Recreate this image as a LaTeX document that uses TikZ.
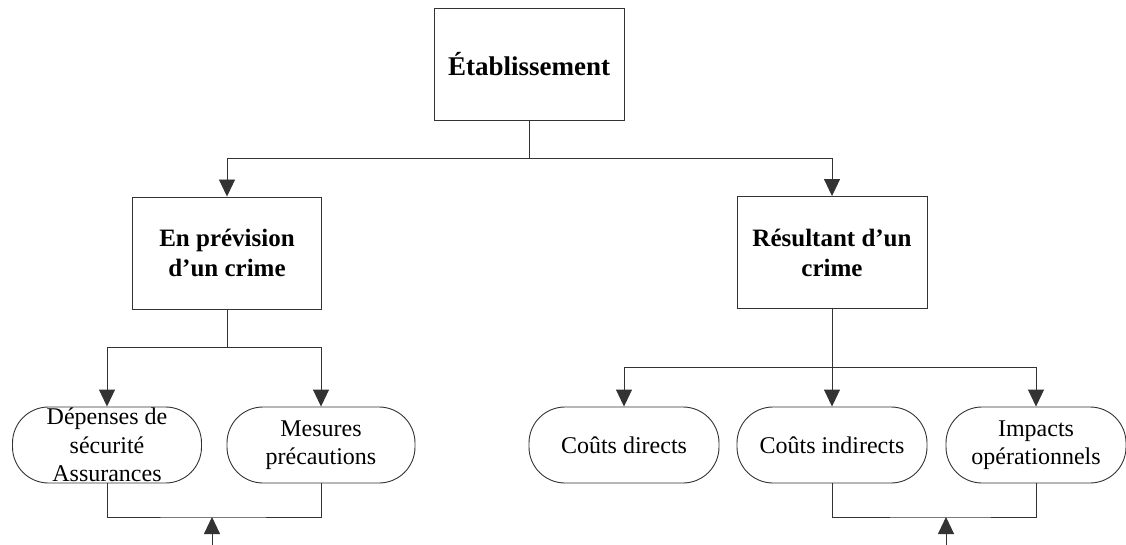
\documentclass[tikz,border=0pt]{standalone}
\usepackage{fontspec}
\setmainfont{Liberation Serif}
\usetikzlibrary{arrows.meta}
\begin{document}
\begin{tikzpicture}[x=1pt,y=-1pt,
  line/.style={draw=black!80,line width=0.9pt},
  arr/.style={line,-{Triangle[width=16pt,length=17pt]}},
  boxnode/.style={line,rectangle,minimum width=190pt,minimum height=112pt,align=center,font=\fontsize{25}{30}\selectfont\bfseries,inner sep=0pt},
  pill/.style={line,rectangle,rounded corners=36pt,minimum width=190pt,minimum height=76pt,align=center,font=\fontsize{24}{28.5}\selectfont,inner sep=0pt}]
\useasboundingbox (0,0) rectangle (1126,545);
\node[boxnode,font=\fontsize{27}{30}\selectfont\bfseries] (top) at (529,64) {Établissement};
\node[boxnode,minimum width=189pt] (prev) at (227,253) {En prévision\\d’un crime};
\node[boxnode] (res) at (832,252.5) {Résultant d’un\\crime};
\node[pill,minimum width=189pt] (dep) at (107,445) {Dépenses de\\sécurité\\Assurances};
\node[pill,minimum width=188pt] (mes) at (321,445) {Mesures\\précautions};
\node[pill] (dir) at (624,445) {Coûts directs};
\node[pill] (ind) at (832,445) {Coûts indirects};
\node[pill,minimum width=180pt] (imp) at (1036,445) {Impacts\\opérationnels};
\coordinate (tj) at (529,158);
\draw[line] (top.south) -- (tj);
\draw[arr] (tj) -| (prev.north);
\draw[arr] (tj) -| (res.north);
\coordinate (pj) at (227,347);
\draw[line] (prev.south) -- (pj);
\draw[arr] (pj) -| (dep.north);
\draw[arr] (pj) -| (mes.north);
\coordinate (rjt) at (832,367);
\draw[line] (res.south) -- (rjt);
\draw[arr] (rjt) -| (dir.north);
\draw[arr] (rjt) -- (ind.north);
\draw[arr] (rjt) -| (imp.north);
\coordinate (lj) at (212,517);
\coordinate (lin) at (212,545);
\draw[line] (dep.south) |- (lj) -| (mes.south);
\draw[arr] (lin) -- (lj);
\coordinate (rj) at (946,517);
\coordinate (rin) at (946,545);
\draw[line] (ind.south) |- (rj) -| (imp.south);
\draw[arr] (rin) -- (rj);
\end{tikzpicture}
\end{document}
